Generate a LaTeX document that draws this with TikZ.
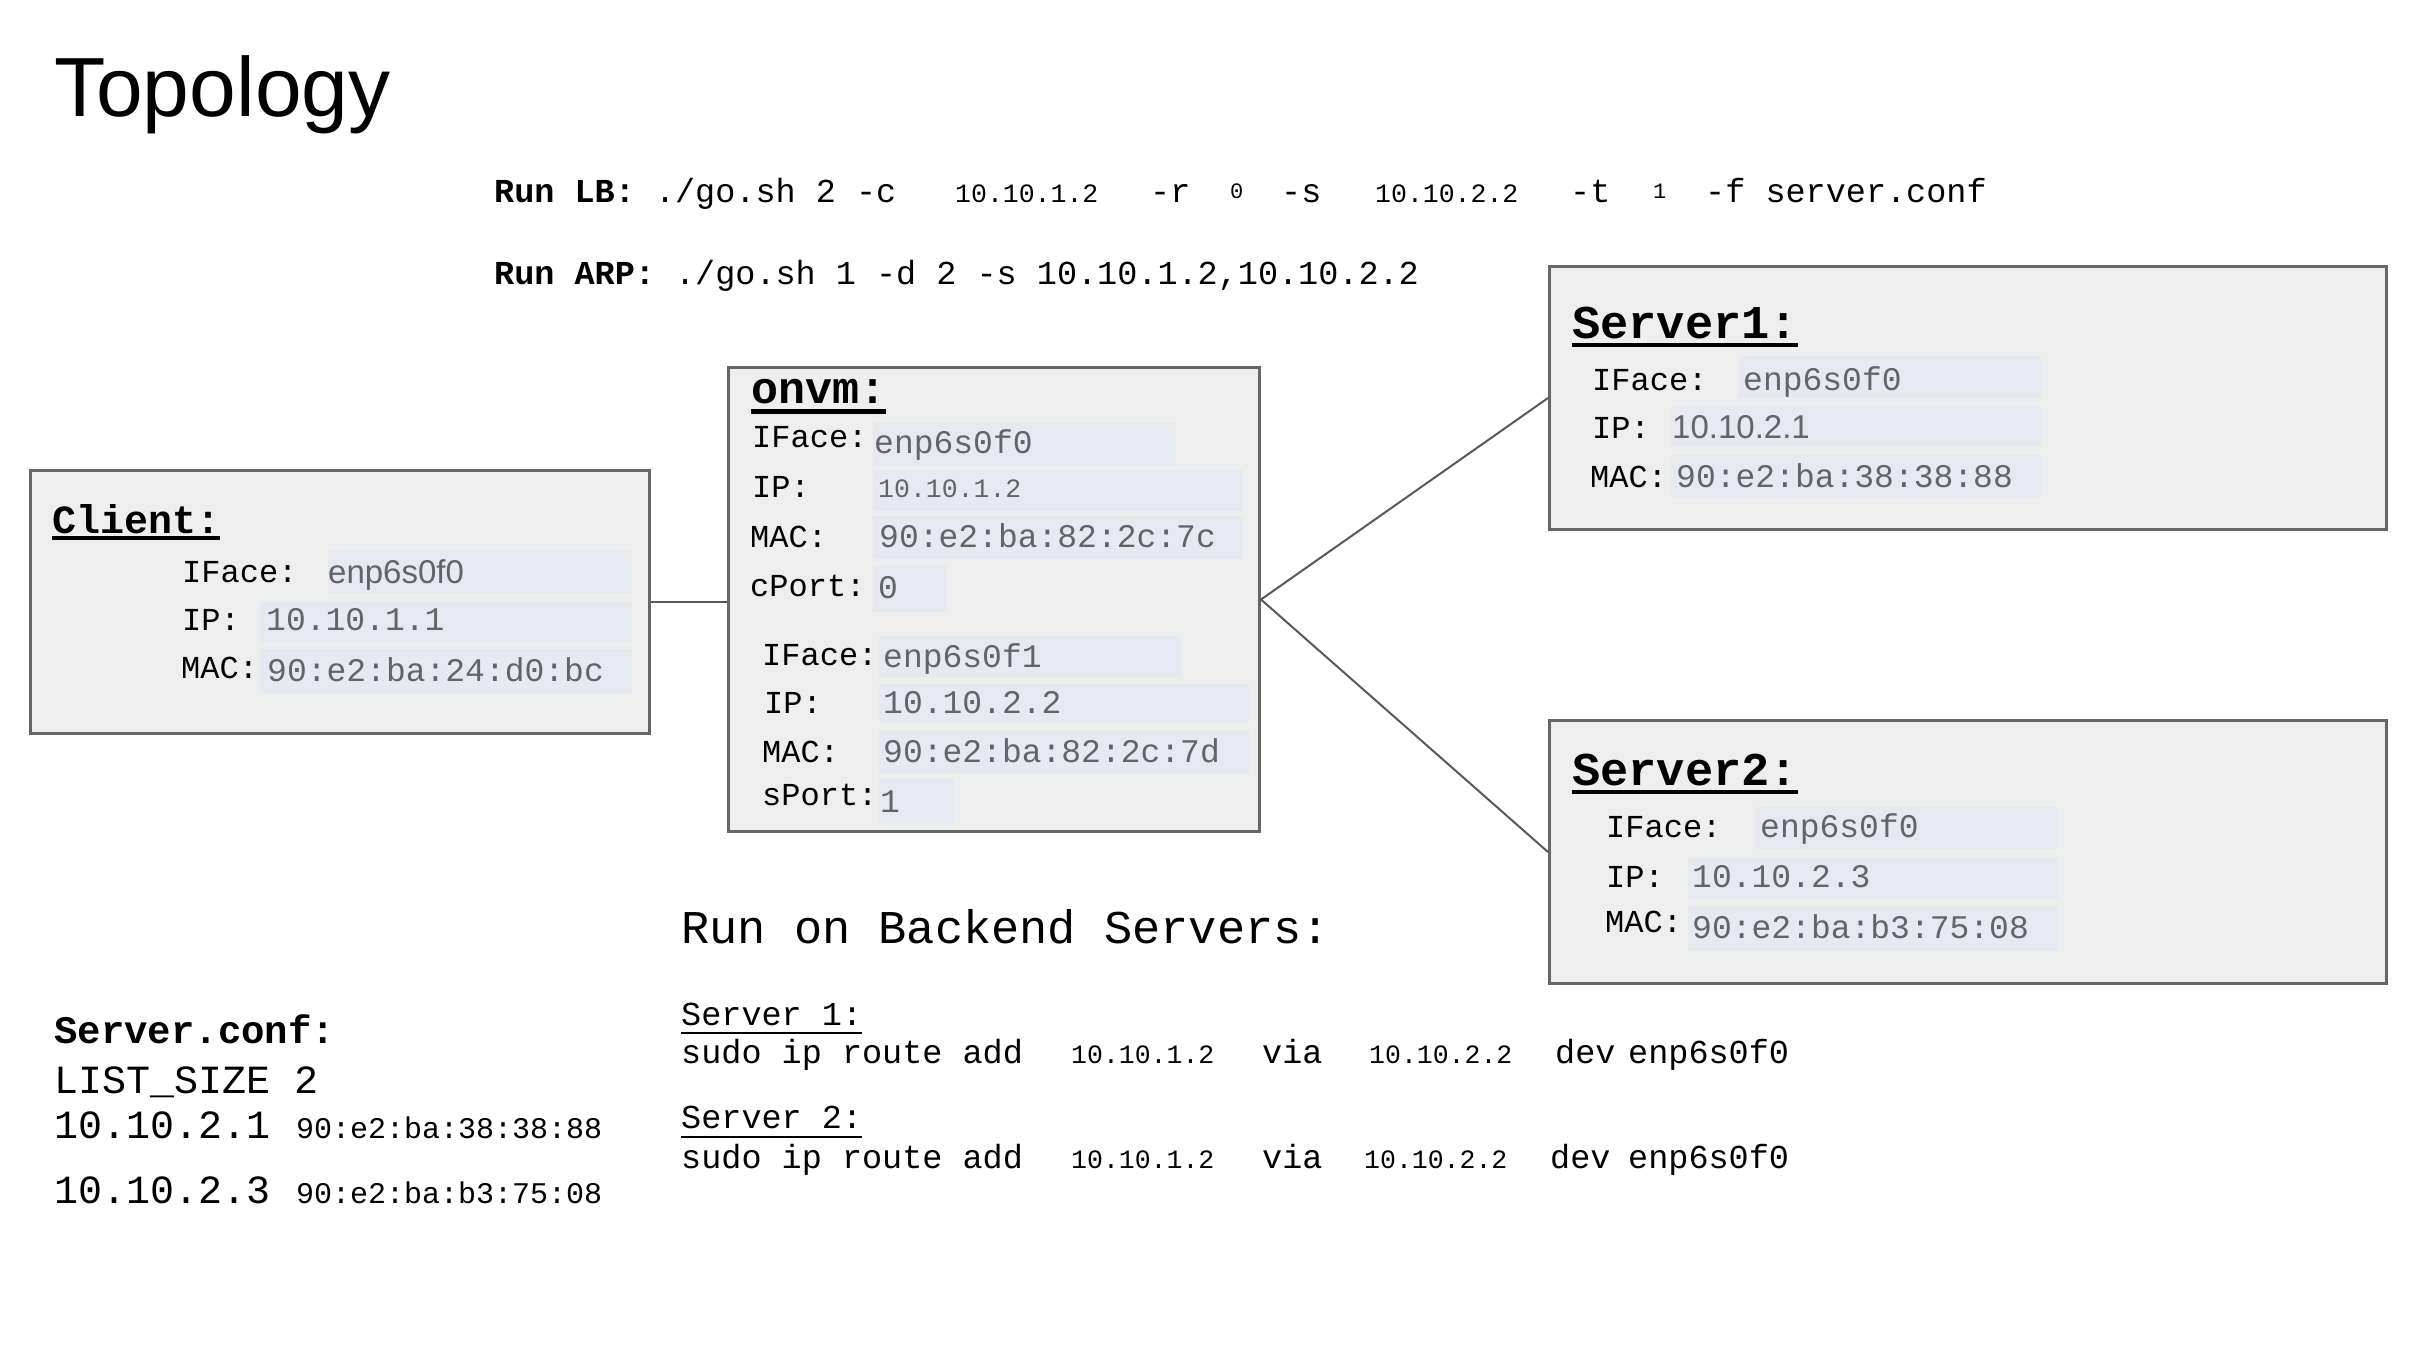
\documentclass[tikz,border=0pt]{standalone}
\usepackage{fontspec}
\usepackage{tikz}
\usepackage{xcolor}
\newfontfamily\cour{Liberation Mono}
\newfontfamily\arial{Liberation Sans}
\newcommand{\setfs}[1]{\fontsize{#1}{#1}\selectfont}
\definecolor{BoxFill}{RGB}{238,238,238}
\definecolor{BoxLine}{RGB}{102,102,102}
\definecolor{HiFill}{RGB}{231,233,242}
\definecolor{ValGray}{RGB}{100,100,104}
\definecolor{LinkGray}{RGB}{89,89,89}

\begin{document}
\begin{tikzpicture}[x=1pt, y=-1pt,
  every node/.style={inner sep=0pt, anchor=base west},
  devbox/.style={draw=BoxLine, fill=BoxFill, line width=3pt, anchor=north west, minimum height=263pt},
  hd/.style={font=\cour\bfseries\setfs{#1}}, hd/.default=40,
  lbl/.style={font=\cour\setfs{32}},
  val/.style={font=\cour\setfs{33}, text=ValGray},
  aval/.style={font=\arial\setfs{33}, text=ValGray},
  sml/.style={font=\cour\setfs{26.5}},
  tny/.style={font=\cour\setfs{22}},
  cmd/.style={font=\cour\setfs{33.5}},
  hl/.style={fill=HiFill},
  link/.style={draw=LinkGray, line width=2pt},
  uline/.style={line width=#1}, uline/.default=4pt]
\fill[white] (0,0) rectangle (2420,1358);
\useasboundingbox (0,0) rectangle (2420,1358);

% title and commands
\node[font=\arial\setfs{84}] (title) at (54,116) {Topology};
\node[cmd] (lbcmd) at (494,202) {{\bfseries Run LB:} ./go.sh 2 -c};
\node[sml] (lbc) at (955,202) {10.10.1.2};
\node[cmd] (lbr) at (1150,202) {-r};
\node[tny] (lbrv) at (1230,198) {0};
\node[cmd] (lbs) at (1281,202) {-s};
\node[sml] (lbsv) at (1375,202) {10.10.2.2};
\node[cmd] (lbt) at (1570,202) {-t};
\node[tny] (lbtv) at (1653,198) {1};
\node[cmd] (lbf) at (1705,202) {-f server.conf};
\node[cmd] (arpcmd) at (494,284) {{\bfseries Run ARP:} ./go.sh 1 -d 2 -s 10.10.1.2,10.10.2.2};

% client
\node[devbox, minimum width=619pt] (client) at (29,469) {};
\fill[hl] (328,550) rectangle (632,593);
\fill[hl] (260,602) rectangle (632,642);
\fill[hl] (260,649) rectangle (632,693);
\node[hd] (clienthd) at (52,533) {Client:};
\draw[uline] ([yshift=-5pt]clienthd.base west) -- ([yshift=-5pt]clienthd.base east);
\node[lbl] (cliface) at (182,582) {IFace:};
\node[lbl] (clip) at (182,630) {IP:};
\node[lbl] (clmac) at (181,678) {MAC:};
\node[aval] (clifacev) at (328,583) {enp6s0f0};
\node[val] (clipv) at (266,630) {10.10.1.1};
\node[val] (clmacv) at (267,681) {90:e2:ba:24:d0:bc};

% onvm
\node[devbox, minimum width=531pt, minimum height=464pt] (onvm) at (727,366) {};
\fill[hl] (873,423) rectangle (1176,466);
\fill[hl] (873,470) rectangle (1243,511);
\fill[hl] (873,516) rectangle (1243,559);
\fill[hl] (873,565) rectangle (947,612);
\fill[hl] (879,636) rectangle (1181,677);
\fill[hl] (879,684) rectangle (1249,723);
\fill[hl] (879,731) rectangle (1249,773);
\fill[hl] (879,779) rectangle (954,824);
\node[hd=45] (onvmhd) at (751,403) {onvm:};
\draw[uline=5pt] ([yshift=-8pt]onvmhd.base west) -- ([yshift=-8pt]onvmhd.base east);
\node[lbl] (oniface) at (752,447) {IFace:};
\node[lbl] (onip) at (752,497) {IP:};
\node[lbl] (onmac) at (750,547) {MAC:};
\node[lbl] (oncport) at (750,596) {cPort:};
\node[lbl] (oniface2) at (762,665) {IFace:};
\node[lbl] (onip2) at (764,713) {IP:};
\node[lbl] (onmac2) at (762,762) {MAC:};
\node[lbl] (onsport) at (762,805) {sPort:};
\node[val] (onifacev) at (874,453) {enp6s0f0};
\node[sml, text=ValGray] (onipv) at (878,497) {10.10.1.2};
\node[val] (onmacv) at (879,547) {90:e2:ba:82:2c:7c};
\node[val] (oncportv) at (878,598) {0};
\node[val] (oniface2v) at (883,667) {enp6s0f1};
\node[val] (onip2v) at (883,713) {10.10.2.2};
\node[val] (onmac2v) at (883,762) {90:e2:ba:82:2c:7d};
\node[val] (onsportv) at (880,812) {1};

% server1
\node[devbox, minimum width=837pt] (srv1) at (1548,265) {};
\fill[hl] (1739,356) rectangle (2041,398);
\fill[hl] (1671,406) rectangle (2041,446);
\fill[hl] (1671,455) rectangle (2041,498);
\node[hd=47] (srv1hd) at (1572,338) {Server1:};
\draw[uline] ([yshift=-7pt]srv1hd.base west) -- ([yshift=-7pt]srv1hd.base east);
\node[lbl] (s1iface) at (1592,390) {IFace:};
\node[lbl] (s1ip) at (1592,438) {IP:};
\node[lbl] (s1mac) at (1590,487) {MAC:};
\node[val] (s1ifacev) at (1743,390) {enp6s0f0};
\node[aval] (s1ipv) at (1672,438) {10.10.2.1};
\node[val] (s1macv) at (1676,487) {90:e2:ba:38:38:88};

% server2
\node[devbox, minimum width=837pt] (srv2) at (1548,719) {};
\fill[hl] (1755,807) rectangle (2058,849);
\fill[hl] (1688,858) rectangle (2058,899);
\fill[hl] (1688,906) rectangle (2058,951);
\node[hd=47] (srv2hd) at (1572,785) {Server2:};
\draw[uline] ([yshift=-7pt]srv2hd.base west) -- ([yshift=-7pt]srv2hd.base east);
\node[lbl] (s2iface) at (1606,837) {IFace:};
\node[lbl] (s2ip) at (1606,887) {IP:};
\node[lbl] (s2mac) at (1605,932) {MAC:};
\node[val] (s2ifacev) at (1760,837) {enp6s0f0};
\node[val] (s2ipv) at (1692,887) {10.10.2.3};
\node[val] (s2macv) at (1692,938) {90:e2:ba:b3:75:08};

% links
\draw[link] (client.east) -- (client.east -| onvm.west);
\draw[link] (onvm.east) -- (srv1.west);
\draw[link] (onvm.east) -- (srv2.west);

% backend servers
\node[font=\cour\setfs{47}] (backhd) at (681,943) {Run on Backend Servers:};
\node[cmd] (b1hd) at (681,1025) {Server 1:};
\draw[uline=2.5pt] ([yshift=-8pt]b1hd.base west) -- ([yshift=-8pt]b1hd.base east);
\node[cmd] (b1cmd) at (681,1063) {sudo ip route add};
\node[sml] (b1dst) at (1071,1063) {10.10.1.2};
\node[cmd] (b1via) at (1262,1063) {via};
\node[sml] (b1gw) at (1369,1063) {10.10.2.2};
\node[cmd] (b1dev) at (1555,1063) {dev};
\node[cmd] (b1if) at (1628,1063) {enp6s0f0};
\node[cmd] (b2hd) at (681,1128) {Server 2:};
\draw[uline=2.5pt] ([yshift=-9pt]b2hd.base west) -- ([yshift=-9pt]b2hd.base east);
\node[cmd] (b2cmd) at (681,1168) {sudo ip route add};
\node[sml] (b2dst) at (1071,1168) {10.10.1.2};
\node[cmd] (b2via) at (1262,1168) {via};
\node[sml] (b2gw) at (1364,1168) {10.10.2.2};
\node[cmd] (b2dev) at (1550,1168) {dev};
\node[cmd] (b2if) at (1628,1168) {enp6s0f0};

% server.conf
\node[hd=39] (confhd) at (54,1043) {Server.conf:};
\node[font=\cour\setfs{40}] (conflist) at (54,1093) {LIST\_SIZE 2};
\node[font=\cour\setfs{40}] (conf1ip) at (54,1138) {10.10.2.1};
\node[font=\cour\setfs{30}] (conf1mac) at (296,1138) {90:e2:ba:38:38:88};
\node[font=\cour\setfs{40}] (conf2ip) at (54,1203) {10.10.2.3};
\node[font=\cour\setfs{30}] (conf2mac) at (296,1203) {90:e2:ba:b3:75:08};
\end{tikzpicture}
\end{document}
